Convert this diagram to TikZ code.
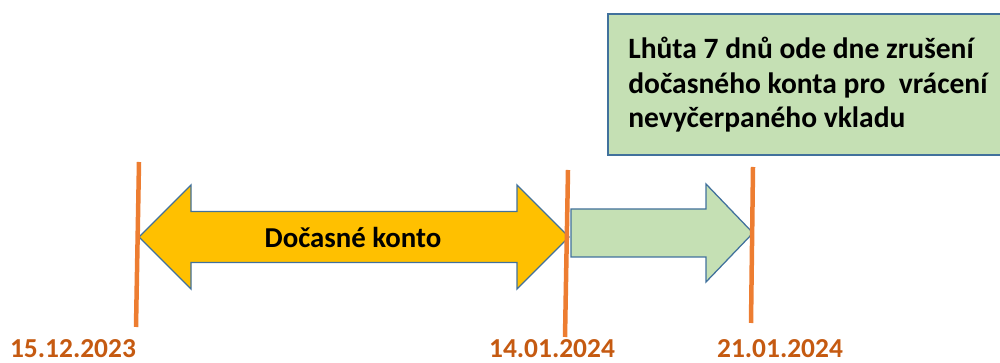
\documentclass[tikz,border=0pt]{standalone}
\usepackage{fontspec}
\setmainfont{Carlito}
\usepackage{tikz}
\usetikzlibrary{calc}
\definecolor{oranzova}{HTML}{ED7D31}
\definecolor{hneda}{HTML}{C55A11}
\definecolor{zluta}{HTML}{FFC000}
\definecolor{zelena}{HTML}{C5E0B4}
\definecolor{okraj}{HTML}{41719C}
\tikzset{
	mez/.style={line width=3.2pt, color=oranzova},
	sipka/.style={draw=okraj, line width=0.9pt, line join=miter},
	datum/.style={anchor=base, inner sep=0pt, text=hneda, font=\fontsize{19.5}{23}\selectfont\bfseries},
}

\begin{document}
\begin{tikzpicture}
		%%%%% START %%%%%
		
		\useasboundingbox (0, 0) rectangle (25, 9.075);
		\clip (0, 0) rectangle (25, 9.075);
		
		\draw[sipka, fill=zelena] (15.2, 8.725) rectangle (25.3, 5.2);
		\node[anchor=north west, align=left, inner sep=0pt, font=\fontsize{21}{24.6}\selectfont\bfseries] (lhuta) at (15.7, 8.15) {Lhůta 7 dnů ode dne zrušení\\dočasného konta pro~ vrácení\\nevyčerpaného vkladu};
		
		\draw[sipka, fill=zluta] (3.475, 3.15) -- (4.775, 4.45) -- (4.775, 3.79) -- (12.925, 3.79) -- (12.925, 4.45) -- (14.225, 3.15) -- (12.925, 1.85) -- (12.925, 2.51) -- (4.775, 2.51) -- (4.775, 1.85) -- cycle;
		\node[anchor=base, inner sep=0pt, font=\fontsize{20.5}{23}\selectfont\bfseries] (konto) at (8.825, 2.875) {Dočasné konto};
		
		\draw[sipka, fill=zelena] (14.275, 3.85) -- (17.65, 3.85) -- (17.65, 4.475) -- (18.825, 3.25) -- (17.65, 2.025) -- (17.65, 2.65) -- (14.275, 2.65) -- cycle;
		
		\draw[mez] (3.475, 5.025) -- (3.4, 0.9);
		\draw[mez] (14.2, 4.825) -- (14.125, 0.65);
		\draw[mez] (18.825, 4.9) -- (18.775, 1.0);
		
		\node[datum] (zacatek) at (1.825, 0.13) {15.12.2023};
		\node[datum] (zruseni) at (13.8, 0.13) {14.01.2024};
		\node[datum] (vraceni) at (19.5, 0.13) {21.01.2024};
		
		%%%%% END %%%%%
	\end{tikzpicture}
\end{document}
